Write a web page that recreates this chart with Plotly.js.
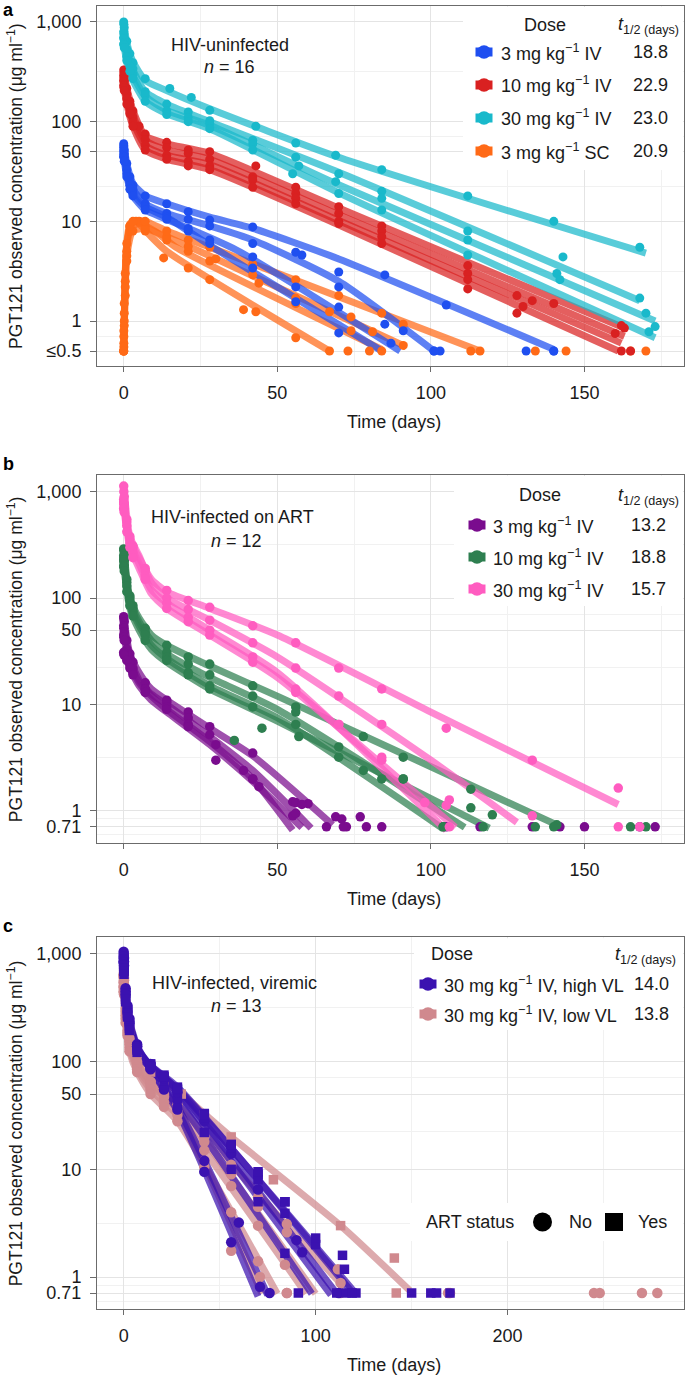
<!DOCTYPE html>
<html><head><meta charset="utf-8">
<script src="https://cdn.plot.ly/plotly-3.0.1.min.js"></script>
<style>html,body{margin:0;padding:0;background:#fff}#chart{width:690px;height:1375px}</style>
</head><body><div id="chart"></div>
<script>
// ---------------- labels & ticks ----------------
const aGroups = ['3 mg kg<sup>−1</sup> IV','10 mg kg<sup>−1</sup> IV','30 mg kg<sup>−1</sup> IV','3 mg kg<sup>−1</sup> SC'];
const aHalfLife = ['18.8','22.9','23.0','20.9'];
const bGroups = ['3 mg kg<sup>−1</sup> IV','10 mg kg<sup>−1</sup> IV','30 mg kg<sup>−1</sup> IV'];
const bHalfLife = ['13.2','18.8','15.7'];
const cGroups = ['30 mg kg<sup>−1</sup> IV, high VL','30 mg kg<sup>−1</sup> IV, low VL'];
const cHalfLife = ['14.0','13.8'];
const xTicksAB = [0,50,100,150], xMinorAB = [25,75,125,175];
const xTicksC = [0,100,200], xMinorC = [50,150,250];
const yTicksA = [0.5,1,10,50,100,1000], yLabelsA = ['≤0.5','1','10','50','100','1,000'];
const yTicksBC = [0.71,1,10,50,100,1000], yLabelsBC = ['0.71','1','10','50','100','1,000'];

// ---------------- panel a: HIV-uninfected ----------------
// 3 mg/kg IV (blue)
const a3ivFitT = [[0,1,3,7,14,28,42,70,140],[0,1,3,7,14,28,42,70,101],[0,1,3,7,14,29,84],[0,1,3,7,14,37,90]];
const a3ivFitC = [[60,38,24,18,15,11,8.5,4.2,0.52],[55,33,21,15,12,9,6.5,2.5,0.5],[50,30,19,14,11,5.5,0.5],[45,28,18,13,10.5,5.1,0.5]];
const a3ivObsT = [[0,0.04,0.17,1,2,3,7,14,21,28,42,58,70,85,105,131,140],
                  [0,0.04,0.17,1,2,3,7,14,21,28,42,56,70,85,101,103],
                  [0,0.04,0.17,1,2,3,7,14,21,28,42,56,70,87,101],
                  [0,0.04,0.17,1,2,3,7,14,21,28,42,56,70,91,140]];
const a3ivObsC = [[60,57,52,38,28,23,18,15,12.5,10.3,8.8,4.6,3.1,2.9,1.45,0.5,0.5],
                  [55,52,48,33,25,21,15,12,10.5,9,6,4.9,2.2,0.93,0.5,0.5],
                  [50,47,44,30,23,19,14,11,8,6,3.4,2.2,0.76,0.6,0.5],
                  [45,44,40,28,21,18,13,10.5,8.5,6.5,4.4,1.56,1.38,0.8,0.5]];
// 10 mg/kg IV (red)
const a10ivFitT = [[0,1,3,7,14,28,69,163],[0,1,3,7,14,28,69,163],[0,1,3,7,14,28,69,162],[0,1,3,7,14,28,69,161]];
const a10ivFitC = [[330,220,130,72,60,48,14,0.85],[290,190,115,65,52,42,12,0.7],[260,170,100,58,46,37,10.5,0.6],[230,150,90,52,42,33,9.5,0.5]];
const a10ivObsT = [[0,0.04,0.17,1,2,3,5,7,14,21,28,43,56,70,84,112,128,140,163],
                   [0,0.04,0.17,1,2,3,7,14,21,28,42,56,70,84,112,133,162],
                   [0,0.04,0.17,1,2,3,7,14,21,28,42,56,70,84,112,130,160],
                   [0,0.04,0.17,1,2,3,7,14,21,28,42,56,70,84,112,128,162,165]];
const a10ivObsC = [[330,310,290,215,160,128,90,75,62,52,50,36,22,14,9,3.6,1.8,1.5,0.85],
                   [290,275,260,190,150,112,66,55,48,42,28,19,12,8,3.0,1.6,0.9],
                   [260,250,235,170,135,100,58,46,40,36,26,17,10,7,2.6,1.4,0.75],
                   [230,220,205,150,120,90,52,42,36,33,22,15,9.5,6,2.1,1.2,0.5,0.5]];
// 30 mg/kg IV (cyan)
const a30ivFitT = [[0,1,3,7,14,28,69,170],[0,1,3,7,14,28,69,168],[0,1,3,7,14,28,69,173],[0,1,3,7,14,28,69,173]];
const a30ivFitC = [[1000,620,400,260,205,135,45,4.8],[800,520,330,200,150,100,32,1.6],[700,450,290,180,130,92,24,1.0],[600,400,260,160,120,85,20,0.68]];
const a30ivObsT = [[0,0.04,0.17,1,2,3,7,15,22,28,43,56,69,84,112,140,168],
                   [0,0.04,0.17,1,2,3,7,14,21,28,42,56,70,84,112,143,168],
                   [0,0.04,0.17,1,2,3,7,14,21,28,42,57,69,84,112,141,170],
                   [0,0.04,0.17,1,2,3,7,14,21,28,42,55,70,84,112,142,171,173]];
const a30ivObsC = [[1000,950,880,640,480,390,270,215,175,130,90,61,46,33,18,10,5.5],
                   [800,760,700,530,400,340,200,150,125,102,65,44,30,20,8,4.4,1.7],
                   [700,680,620,450,360,300,185,128,110,95,60,36,25,17,6.5,3.0,1.2],
                   [600,590,550,410,320,270,160,118,100,85,52,30,19,13,4.6,2.6,0.78,0.88]];
// 3 mg/kg SC (orange)
const a3scFitT = [[0,0.5,1,2,4,8,14,67],[0,0.5,1,2,5,10,17,84],[0,0.5,1,3,7,14,28,92],[0,0.5,1,3,7,14,28,116]];
const a3scFitC = [[0.5,3,6,9.5,10,7.5,5,0.5],[0.5,2.5,5,8.5,9.5,8,5.5,0.52],[0.5,2,4.5,8,8.5,7,4.5,0.55],[0.5,3,6,10,10,8,5.5,0.5]];
const a3scObsT = [[0,0.04,0.17,0.5,1,2,4,7,13,21,28,39,43,56,67,73,80],
                  [0,0.04,0.17,0.5,1,2,5,7,14,21,28,44,56,74,81,84,165],
                  [0,0.04,0.17,0.5,1,3,7,14,21,30,42,56,67,74,91,113,134],
                  [0,0.04,0.17,0.5,1,2,3,7,14,21,28,42,56,70,84,91,116,144,170]];
const a3scObsC = [[0.5,0.7,1.2,2.5,5,9,10,8,4.3,3.4,2.6,1.3,1.24,0.68,0.5,0.5,0.5],
                  [0.5,0.6,1,2.2,4.5,8,10,9,6.5,5,4,2.4,1.5,0.8,0.78,0.5,0.5],
                  [0.5,0.55,0.9,1.8,4,8,8.5,7,5.6,4.2,2.9,1.7,1.24,1.1,0.57,0.5,0.5],
                  [0.5,0.8,1.5,3,6,9,10,10,8,6.5,5.5,3.7,2.6,1.8,1.2,0.93,0.5,0.5,0.5]];

// ---------------- panel b: HIV-infected on ART ----------------
// 3 mg/kg IV (purple)
const b3ivFitT = [[0,2,5,9,14,28,42,68],[0,2,5,9,14,28,42,61],[0,2,5,9,14,28,42,55],[0,2,5,9,14,28,42,58]];
const b3ivFitC = [[67,30,20,14,11,6,3.3,0.74],[55,27,17,12.5,10,5,2.4,0.69],[45,24,16,12,9,4.5,2,0.66],[31,22,15,11,8.5,4.2,1.9,0.7]];
const b3ivObsT = [[0,0.04,0.17,1,2,3,7,14,21,28,42,55,60,69,77,84,133,173],
                  [0,0.04,0.17,1,2,3,7,14,21,28,39,44,56,58,71,79,142],
                  [0,0.04,0.17,1,2,3,7,14,21,30,42,55,66,72.5,105,150],
                  [0,0.04,0.17,1,2,3,7,14,21,30,42,56,71.5,116,168]];
const b3ivObsC = [[67,64,60,40,30,25,16,11,8.5,6.2,3.5,1.22,1.17,0.88,0.88,0.71,0.71,0.71],
                  [55,52,48,33,27,22,14,10.5,7.5,5.2,2.4,1.69,1.2,1.15,0.84,0.71,0.71],
                  [45,43,40,30,24,20,14,9.5,6.5,4.2,2.0,0.9,0.71,0.71,0.71,0.71],
                  [31,30,29,26,22,19,13,9,6.2,3.0,2.0,0.95,0.71,0.71,0.71]];
// 10 mg/kg IV (green)
const b10ivFitT = [[0,2,5,9,14,28,50,100,141],[0,2,5,9,14,28,50,111],[0,2,5,9,14,28,50,104],[0,2,5,9,14,28,50,119]];
const b10ivFitC = [[290,100,65,45,36,23,12,2.6,0.74],[250,95,60,40,30,18,9,0.7],[230,90,55,36,27,15,7.5,0.68],[200,80,50,33,25,14,7,0.69]];
const b10ivObsT = [[0,0.04,0.17,1,2,3,7,14,21,28,42,56,78,91,113,141,165],
                   [0,0.04,0.17,1,2,3,7,14,21,28,42,56,78,91,104,117],
                   [0,0.04,0.17,1,2,3,7,14,21,28,36,45,57,70,84,104,134],
                   [0,0.04,0.17,1,2,3,7,14,21,28,42,56,70,91,113,120,140,170]];
const b10ivObsC = [[290,280,260,150,105,85,52,36,28,24,15,9.5,5,3.2,1.6,0.74,0.71],
                   [250,240,225,140,100,80,48,31,24,19,12,8.5,2.4,2.0,0.71,0.71],
                   [230,220,205,130,95,75,45,28,20,15,4.6,6,5,3.2,2.0,0.71,0.71],
                   [200,195,180,115,85,68,40,26,19,14,9.5,6.5,4,2.0,1.07,0.92,0.71,0.71]];
// 30 mg/kg IV (pink)
const b30ivFitT = [[0,2,5,9,14,28,50,100,161],[0,2,5,9,14,28,50,100,128],[0,2,5,9,14,28,50,105],[0,2,5,9,14,28,50,108]];
const b30ivFitC = [[850,350,240,150,115,80,45,8.5,1.15],[1130,380,250,140,100,62,28,3.0,0.78],[800,330,210,120,90,50,20,0.66],[700,300,190,110,80,45,18,0.7]];
const b30ivObsT = [[0,0.04,0.17,1,2,3,7,14,21,28,42,56,70,84,105,133,161],
                   [0,0.04,0.17,1,2,3,7,14,21,28,42,56,70,84,106,133,161],
                   [0,0.04,0.17,1,2,3,7,14,21,28,42,56,70,84,105,106],
                   [0,0.04,0.17,1,2,3,7,14,21,28,42,56,70,84,98,168]];
const b30ivObsC = [[850,800,760,520,360,300,190,118,95,82,55,38,22,14,6,3.0,1.64],
                   [1130,1000,900,550,380,310,180,100,78,62,38,22,12,6.5,1.27,0.9,0.71],
                   [800,760,700,480,330,270,160,90,66,50,28,14,6.5,3.0,1.13,0.71],
                   [700,680,640,420,300,240,150,80,60,45,25,13,6.5,3.2,1.2,0.71]];

// ---------------- panel c: HIV-infected, viremic ----------------
// high VL (indigo); ART status per subject
const cHighFitT = [[0,1,3,7,14,28,70],[0,1,3,7,14,28,75],[0,1,3,7,14,28,98],[0,1,3,7,14,28,108],[0,1,3,7,14,28,111],[0,1,3,7,14,28,119],[0,1,3,7,14,28,121]];
const cHighFitC = [[1050,480,240,140,85,35,0.66],[950,450,230,135,85,38,0.68],[900,430,225,135,88,45,0.7],[850,420,220,135,92,52,0.68],[800,400,210,130,92,55,0.7],[760,380,200,125,92,58,0.72],[700,360,190,120,88,56,0.7]];
const cHighObsT = [[0,0.04,0.17,1,2,3,7,14,21,28,42,56,71],
                   [0,0.04,0.17,1,2,3,7,14,21,28,42,60,76],
                   [0,0.04,0.17,1,2,3,7,14,21,28,42,56,70,84,91,150],
                   [0,0.04,0.17,1,2,3,7,14,21,28,42,56,70,90,93,112],
                   [0,0.04,0.17,1,2,3,7,14,21,28,42,56,70,84,111,116,160],
                   [0,0.04,0.17,1,2,3,7,14,21,28,42,56,70,84,100,114,121,163,170],
                   [0,0.04,0.17,1,2,3,7,14,21,28,42,56,70,84,100,115,119]];
const cHighObsC = [[1050,1000,920,480,330,250,145,88,55,36,9.5,2.1,0.81],
                   [950,900,850,450,310,235,138,85,58,38,12,3.2,0.71],
                   [900,870,800,430,300,230,138,90,66,45,22,10,5,1.66,0.71,0.71],
                   [850,830,780,420,290,225,138,95,70,52,28,14,6.5,2.2,1.7,0.71],
                   [800,780,740,400,280,215,132,95,72,55,30,16,8,3.9,0.71,0.71,0.71],
                   [760,740,700,380,270,205,128,95,75,58,33,17,9,5,2,1.59,0.71,0.71,0.71],
                   [700,690,650,360,260,195,122,90,72,56,32,17,9.5,5,2.3,1.18,0.71]];
const cHighArt = ['No','No','Yes','No','Yes','Yes','Yes'];
// low VL (rose)
const cLowFitT = [[0,1,3,7,14,30,56,113,149],[0,1,3,7,14,28,72],[0,1,3,7,14,28,85,115],[0,1,3,7,14,28,100],[0,1,3,7,14,28,95],[0,1,3,7,14,28,80]];
const cLowFitC = [[700,340,190,115,80,50,20,3,0.75],[650,310,165,100,65,35,0.7],[620,290,155,95,65,40,3,0.8],[550,270,145,90,60,38,0.7],[500,250,135,85,55,32,0.7],[450,230,125,80,50,28,0.7]];
const cLowObsT = [[0,0.04,0.17,1,2,3,7,14,21,30,42,56,78,113,141,142],
                  [0,0.04,0.17,1,2,3,7,14,21,28,42,56,71,85,169],
                  [0,0.04,0.17,1,2,3,7,14,21,28,42,56,70,85,111.6,113,170],
                  [0,0.04,0.17,1,2,3,7,14,21,28,42,56,70,85,113,245],
                  [0,0.04,0.17,1,2,3,7,14,21,28,42,56,70,84,248,270],
                  [0,0.04,0.17,1,2,3,7,14,21,28,42,56,70,85,278]];
const cLowObsC = [[700,680,640,340,250,195,118,80,62,50,32,20,8,3.0,1.5,0.71],
                  [650,630,600,310,225,165,100,65,48,35,12,1.75,1.0,0.71,0.71],
                  [620,600,570,290,215,155,95,65,50,40,20,11,5.5,3.1,1.18,0.88,0.71],
                  [550,540,510,270,195,145,90,60,47,38,18,9,4.5,2.6,0.71,0.71],
                  [500,490,470,250,185,135,85,55,42,32,15,7,3,1.3,0.71,0.71],
                  [450,440,420,230,175,125,80,50,38,28,10.5,4,1.4,0.71,0.71]];
const cLowArt = ['Yes','No','No','No','No','No'];

// ---------------- drawing ----------------
const W = 690, H = 1375;
const FONT = 'Liberation Sans, Arial, Helvetica, sans-serif';
const TXT = '#1a1a1a';
const px = v => v / W, py = v => 1 - v / H;

const COL = {
  blue:'#1f4ff0', red:'#d92121', cyan:'#19b9cb', orange:'#ff6a17',
  purple:'#7a0c8e', green:'#2e7f50', pink:'#ff5cc0',
  indigo:'#3b12b0', rose:'#d0898e'
};

const lineTraces = [], pointTraces = [];
function addGroup(xa, ya, fitT, fitC, obsT, obsC, color, size, symbols) {
  fitT.forEach((t, i) => {
    lineTraces.push({type:'scatter', mode:'lines', x:t, y:fitC[i], xaxis:xa, yaxis:ya,
      line:{color:color, width:7, shape:'spline', smoothing:0.6}, opacity:0.72,
      hoverinfo:'skip', showlegend:false});
  });
  obsT.forEach((t, i) => {
    const sym = symbols ? (symbols[i] === 'Yes' ? 'square' : 'circle') : 'circle';
    pointTraces.push({type:'scatter', mode:'markers', x:t, y:obsC[i], xaxis:xa, yaxis:ya,
      marker:{color:color, size: sym === 'square' ? size - 1 : size, symbol:sym, line:{width:0}},
      hoverinfo:'skip', showlegend:false});
  });
}
addGroup('x','y', a3scFitT, a3scFitC, a3scObsT, a3scObsC, COL.orange, 9);
addGroup('x','y', a3ivFitT, a3ivFitC, a3ivObsT, a3ivObsC, COL.blue, 9);
addGroup('x','y', a10ivFitT, a10ivFitC, a10ivObsT, a10ivObsC, COL.red, 9);
addGroup('x','y', a30ivFitT, a30ivFitC, a30ivObsT, a30ivObsC, COL.cyan, 9);
addGroup('x2','y2', b3ivFitT, b3ivFitC, b3ivObsT, b3ivObsC, COL.purple, 9.5);
addGroup('x2','y2', b10ivFitT, b10ivFitC, b10ivObsT, b10ivObsC, COL.green, 9.5);
addGroup('x2','y2', b30ivFitT, b30ivFitC, b30ivObsT, b30ivObsC, COL.pink, 9.5);
addGroup('x3','y3', cLowFitT, cLowFitC, cLowObsT, cLowObsC, COL.rose, 10.5, cLowArt);
addGroup('x3','y3', cHighFitT, cHighFitC, cHighObsT, cHighObsC, COL.indigo, 10.5, cHighArt);

function logMinor(ticks) {
  const l = ticks.map(Math.log10), out = [Math.pow(10, l[0] - (l[1] - l[0]) / 2)];
  for (let i = 0; i < l.length - 1; i++) out.push(Math.pow(10, (l[i] + l[i + 1]) / 2));
  return out;
}
const AXC = '#6b6b6b';
function xAxis(dom, anchor, range, ticks, minor) {
  return {domain:dom, anchor:anchor, range:range, tickmode:'array', tickvals:ticks,
    ticktext:ticks.map(String), ticks:'outside', ticklen:5, tickcolor:AXC, ticklabelstandoff:5,
    showline:true, mirror:true, linecolor:AXC, linewidth:1, zeroline:false,
    showgrid:true, gridcolor:'#e4e4e4', gridwidth:1,
    minor:{tickmode:'array', tickvals:minor, showgrid:true, gridcolor:'#f1f1f1', gridwidth:1, ticks:''},
    tickfont:{family:FONT, size:18, color:TXT}, fixedrange:true};
}
function yAxis(dom, anchor, range, ticks, labels) {
  return {domain:dom, anchor:anchor, type:'log', range:range, tickmode:'array', tickvals:ticks,
    ticktext:labels, ticks:'outside', ticklen:6, tickcolor:AXC, ticklabelstandoff:5,
    showline:true, mirror:true, linecolor:AXC, linewidth:1, zeroline:false,
    showgrid:true, gridcolor:'#e4e4e4', gridwidth:1,
    minor:{tickmode:'array', tickvals:logMinor(ticks), showgrid:true, gridcolor:'#f1f1f1', gridwidth:1, ticks:''},
    tickfont:{family:FONT, size:18, color:TXT}, fixedrange:true};
}

const XD = [px(97), px(684)];
const panels = [
  {top:6, bottom:366},
  {top:475, bottom:843.3},
  {top:937.3, bottom:1309.3}
];

const annotations = [], shapes = [];
function ann(text, x, y, o) {
  annotations.push(Object.assign({text:text, x:px(x), y:py(y), xref:'paper', yref:'paper',
    showarrow:false, xanchor:'center', yanchor:'middle',
    font:{family:FONT, size:18, color:TXT}}, o || {}));
}
function rectPx(x0, y0, x1, y1, fill, type) {
  shapes.push({type:type || 'rect', xref:'paper', yref:'paper', x0:px(x0), x1:px(x1), y0:py(y1), y1:py(y0),
    fillcolor:fill, line:{width:0}, layer:'above'});
}
function key(cx, cy, color) {
  rectPx(cx - 8.5, cy - 4.5, cx + 8.5, cy + 4.5, color);
  rectPx(cx - 6.8, cy - 6.8, cx + 6.8, cy + 6.8, color, 'circle');
}

// Axis titles & panel letters
const yTitle = 'PGT121 observed concentration (μg ml<sup>−1</sup>)';
panels.forEach((p, i) => {
  ann(yTitle, 15, (p.top + p.bottom) / 2, {textangle:-90, font:{family:FONT, size:17.5, color:TXT}});
  ann('Time (days)', 394, p.bottom + 56, {font:{family:FONT, size:18, color:TXT}});
});
ann('<b>a</b>', 8, 10, {font:{family:FONT, size:18, color:'#000'}});
ann('<b>b</b>', 8, 464, {font:{family:FONT, size:18, color:'#000'}});
ann('<b>c</b>', 8, 926, {font:{family:FONT, size:18, color:'#000'}});

// Panel inner titles
ann('HIV-uninfected', 230, 45);
ann('<i>n</i> = 16', 229, 67);
ann('HIV-infected on ART', 232, 517);
ann('<i>n</i> = 12', 236, 541);
ann('HIV-infected, viremic', 234, 983);
ann('<i>n</i> = 13', 236, 1006);

// Legend a
rectPx(463, 7, 683, 170, '#ffffff');
ann('Dose', 545, 25);
ann('<i>t</i><sub>1/2 (days)</sub>', 648, 26);
const aCols = [COL.blue, COL.red, COL.cyan, COL.orange];
aGroups.forEach((g, i) => {
  const y = 52 + i * 33;
  key(484, y, aCols[i]);
  ann(g, 499, y, {xanchor:'left'});
  ann(aHalfLife[i], 650, y);
});
// Legend b
rectPx(454, 476, 683, 606, '#ffffff');
ann('Dose', 540, 495);
ann('<i>t</i><sub>1/2 (days)</sub>', 648, 496);
const bCols = [COL.purple, COL.green, COL.pink];
bGroups.forEach((g, i) => {
  const y = 525 + i * 32;
  key(477, y, bCols[i]);
  ann(g, 491, y, {xanchor:'left'});
  ann(bHalfLife[i], 648, y);
});
// Legend c
rectPx(414, 938.3, 683, 1030, '#ffffff');
ann('Dose', 452, 954);
ann('<i>t</i><sub>1/2 (days)</sub>', 645, 955);
const cCols = [COL.indigo, COL.rose];
cGroups.forEach((g, i) => {
  const y = 984 + i * 30;
  key(428, y, cCols[i]);
  ann(g, 442, y, {xanchor:'left'});
  ann(cHalfLife[i], 651, y);
});
// ART status legend
rectPx(410, 1203, 683, 1241, '#ffffff');
ann('ART status', 470, 1222);
rectPx(533, 1212.5, 552, 1231.5, '#000000', 'circle');
ann('No', 580, 1222);
rectPx(605, 1213, 623, 1231, '#000000');
ann('Yes', 652, 1222);

const layout = {
  width:W, height:H, margin:{l:0, r:0, t:0, b:0},
  paper_bgcolor:'#ffffff', plot_bgcolor:'#ffffff', showlegend:false,
  font:{family:FONT, size:18, color:TXT},
  xaxis: xAxis(XD, 'y', [-8.7, 182.4], xTicksAB, xMinorAB),
  yaxis: yAxis([py(panels[0].bottom), py(panels[0].top)], 'x', [-0.451, 3.16], yTicksA, yLabelsA),
  xaxis2: xAxis(XD, 'y2', [-8.7, 182.4], xTicksAB, xMinorAB),
  yaxis2: yAxis([py(panels[1].bottom), py(panels[1].top)], 'x2', [-0.304, 3.157], yTicksBC, yLabelsBC),
  xaxis3: xAxis(XD, 'y3', [-13.9, 291.9], xTicksC, xMinorC),
  yaxis3: yAxis([py(panels[2].bottom), py(panels[2].top)], 'x3', [-0.30, 3.155], yTicksBC, yLabelsBC),
  annotations: annotations, shapes: shapes
};

Plotly.newPlot('chart', lineTraces.concat(pointTraces), layout, {staticPlot:true, displayModeBar:false});
</script>
</body></html>
